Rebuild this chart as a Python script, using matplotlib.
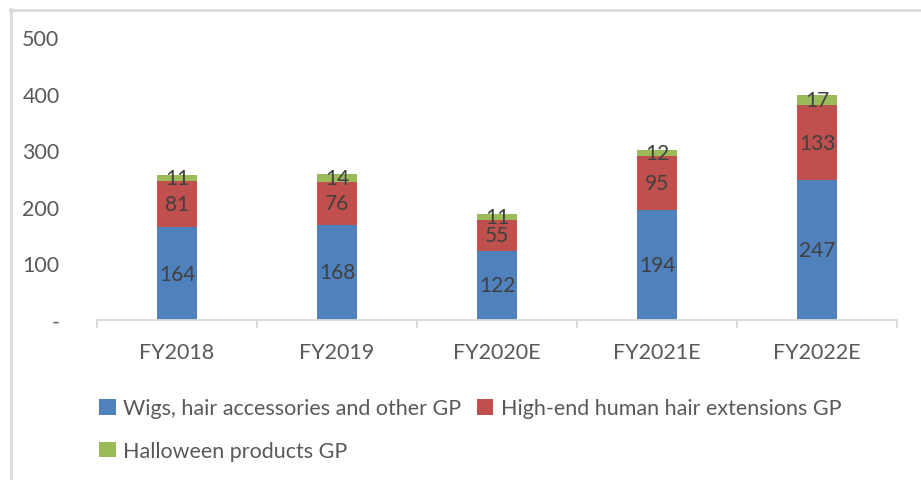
import numpy as np
import matplotlib.pyplot as plt
from matplotlib.lines import Line2D

years = ["FY2018", "FY2019", "FY2020E", "FY2021E", "FY2022E"]
wigs = [164, 168, 122, 194, 247]
extensions = [81, 76, 55, 95, 133]
halloween = [11, 14, 11, 12, 17]

names = ["Wigs, hair accessories and other GP",
         "High-end human hair extensions GP",
         "Halloween products GP"]
colors = ["#4f81bd", "#c0504d", "#9bbb59"]

plt.rcParams['font.family'] = ['Lato', 'DejaVu Sans']

W, H = 921, 481
fig = plt.figure(figsize=(W / 100, H / 100), dpi=100)
ax = fig.add_axes([97 / W, 1 - 321 / H, 800 / W, (321 - 38) / H])

x = np.arange(len(years))
bottom = np.zeros(len(years))
bars = []
for vals, name, c in zip([wigs, extensions, halloween], names, colors):
    b = ax.bar(x, vals, width=0.25, bottom=bottom, color=c, label=name)
    bars.append(b)
    for xi, v, bt in zip(x, vals, bottom):
        ax.text(xi, bt + v / 2, str(v), ha='center', va='center',
                fontsize=15, color='#404040')
    bottom += np.array(vals)

ax.set_xlim(-0.5, len(years) - 0.5)
ax.set_ylim(0, 500)
ax.set_yticks([0, 100, 200, 300, 400, 500])
ax.set_yticklabels(["-", "100", "200", "300", "400", "500"])
ax.set_xticks(x)
ax.set_xticklabels(years)
ax.set_xticks(np.arange(-0.5, len(years)), minor=True)

for s in ['top', 'right', 'left']:
    ax.spines[s].set_visible(False)
ax.spines['bottom'].set_color('#d9d9d9')
ax.spines['bottom'].set_linewidth(1.3)
ax.tick_params(axis='y', length=0, pad=27, labelsize=15.5, labelcolor='#595959')
ax.tick_params(axis='x', which='major', length=0, pad=16, labelsize=15.5,
               labelcolor='#595959')
ax.tick_params(axis='x', which='minor', length=6, width=1.3, color='#d9d9d9')

handles = [bars[0], bars[2], bars[1]]
labels = [names[0], names[2], names[1]]
fig.legend(handles, labels, ncol=2, loc='upper left',
           bbox_to_anchor=(80 / W, 1 - 380 / H), frameon=False,
           fontsize=15.5, labelcolor='#595959', handlelength=0.75,
           handleheight=0.75, handletextpad=0.35, columnspacing=0.75,
           labelspacing=1.05)

# thin chart border along the top and left edges
fig.add_artist(Line2D([10.5 / W, 10.5 / W], [0, 1 - 10 / H],
                      transform=fig.transFigure, color='#d9d9d9', lw=2))
fig.add_artist(Line2D([10 / W, 1], [1 - 10.5 / H, 1 - 10.5 / H],
                      transform=fig.transFigure, color='#d9d9d9', lw=2))

fig.savefig("out.png", dpi=100)
